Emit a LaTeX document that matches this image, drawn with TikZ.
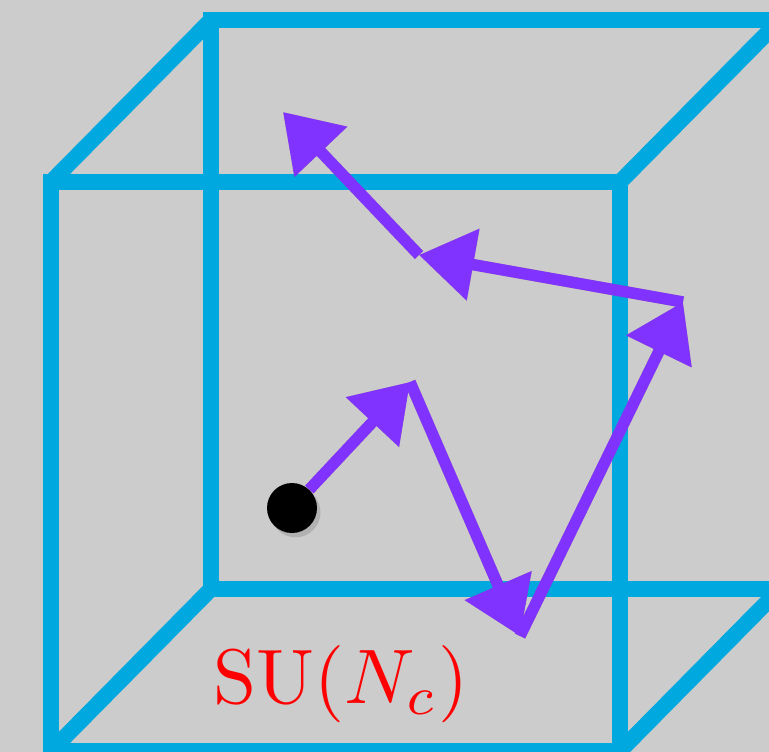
\documentclass[tikz,border=0pt]{standalone}
\usetikzlibrary{arrows.meta,shadows}
\definecolor{bggray}{RGB}{204,204,204}
\definecolor{cubeblue}{RGB}{0,168,224}
\definecolor{hopviolet}{RGB}{128,51,255}
\definecolor{hopbrown}{RGB}{140,80,50}
\tikzset{
  edge/.style={cubeblue, line width=9pt, line join=miter},
  hop/.style={hopviolet, line width=6.5pt, -{Triangle[length=1.1cm,width=1.4cm]}},
  hopshade/.style={hopbrown, opacity=0.4, line width=6.5pt, -{Triangle[length=1.1cm,width=1.4cm]}}
}
\begin{document}
\begin{tikzpicture}[x=0.02cm,y=-0.02cm]
\fill[bggray] (0,0) rectangle (769,752);
\useasboundingbox (0,0) rectangle (769,752);
\clip (0,0) rectangle (769,752);
% cube
\coordinate (F1) at (51,182);
\coordinate (F2) at (620,182);
\coordinate (F3) at (620,751);
\coordinate (F4) at (51,751);
\coordinate (B1) at (211,20);
\coordinate (B2) at (780,20);
\coordinate (B3) at (780,589);
\coordinate (B4) at (211,589);
\draw[edge] (B1)--(B2)--(B3)--(B4)--cycle;
\draw[edge] (F1)--(F2)--(F3)--(F4)--cycle;
\foreach \i in {1,2,3,4} {
  \draw[edge] (F\i)--(B\i);
}
% walk
\node[circle, fill=black, minimum size=1cm, inner sep=0pt,
  drop shadow={shadow xshift=2pt, shadow yshift=-2.5pt, opacity=0.35}] (dot) at (292,508) {};
\coordinate (P1) at (410,382);
\coordinate (P2) at (520,636);
\coordinate (P3) at (683,302);
\coordinate (P4) at (419,255);
\coordinate (P5) at (283,112);
\begin{scope}[shift={(3,4)}]
  \draw[hopshade] (dot)--(P1);
  \draw[hopshade] (P1)--(P2);
  \draw[hopshade] (P2)--(P3);
  \draw[hopshade] (P3)--(P4);
  \draw[hopshade] (P4)--(P5);
\end{scope}
\draw[hop] (dot)--(P1);
\draw[hop] (P1)--(P2);
\draw[hop] (P2)--(P3);
\draw[hop] (P3)--(P4);
\draw[hop] (P4)--(P5);
\node[red, scale=4.4, anchor=base] (group) at (341,703) {$\mathrm{SU}(N_c)$};
\end{tikzpicture}
\end{document}
